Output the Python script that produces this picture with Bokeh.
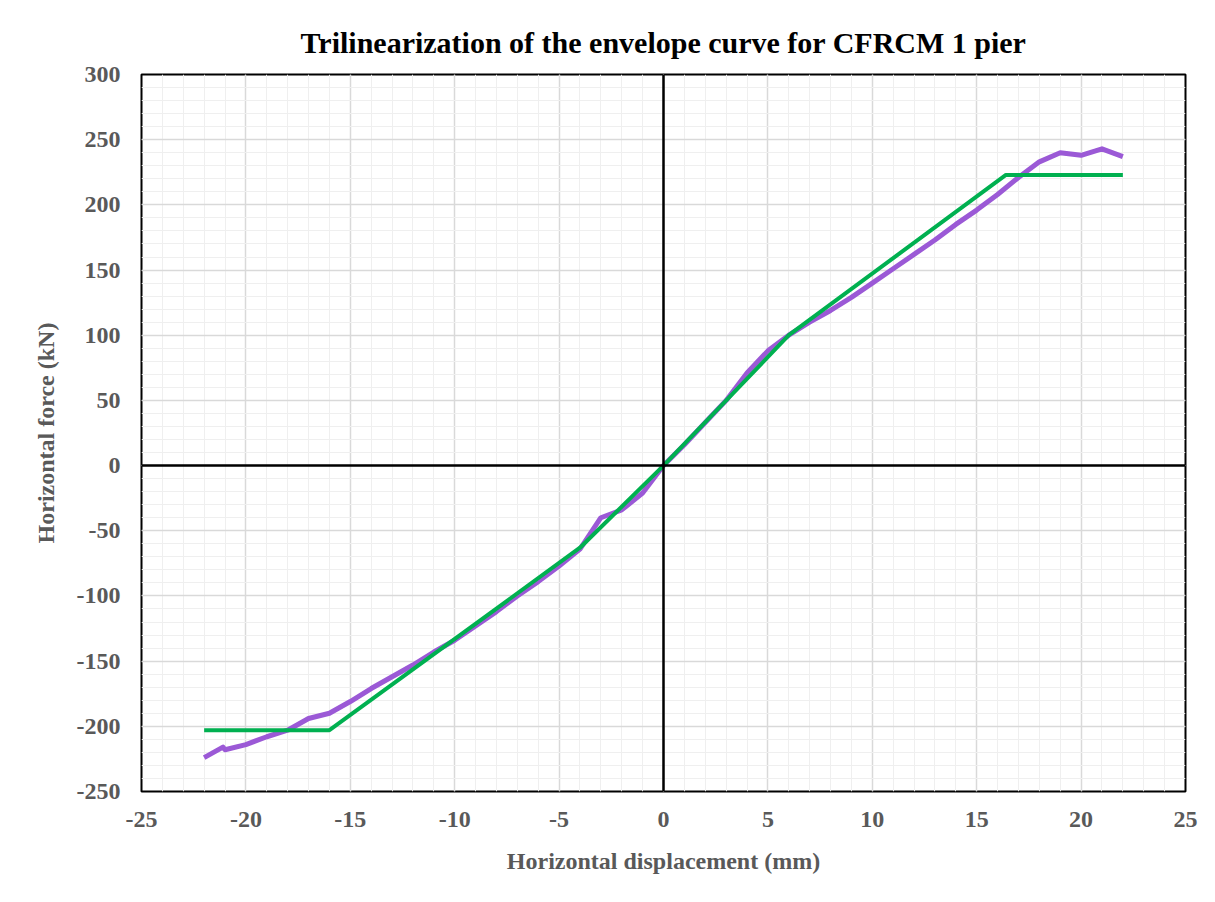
from bokeh.plotting import figure
from bokeh.models import Span, FixedTicker
from bokeh.embed import file_html
from bokeh.resources import INLINE

# Experimental envelope curve (purple)
env_x = [-22, -21.1, -21, -20, -19, -18, -17, -16, -15, -14, -13, -12, -11, -10,
         -9, -8, -7, -6, -5, -4, -3, -2, -1, 0, 1, 2, 3, 4, 5, 6, 7, 8, 9, 10,
         11, 12, 13, 14, 15, 16, 17, 18, 19, 20, 21, 22]
env_y = [-224, -216, -218, -214, -208, -203, -194, -190, -181, -171, -162, -153, -143, -134,
         -123, -112, -100, -89, -77, -64, -40, -34, -21, 0, 16, 33, 50, 71, 88, 100, 110, 119, 129, 140,
         151, 162, 173, 185, 196, 208, 221, 233, 240, 238, 243, 237]

# Trilinear approximation (green)
tri_x = [-22, -16, -4, 0, 6, 16.4, 22]
tri_y = [-203, -203, -63, 0, 100, 223, 223]

# Axis ticks
x_ticks = [-25, -20, -15, -10, -5, 0, 5, 10, 15, 20, 25]
y_ticks = [-250, -200, -150, -100, -50, 0, 50, 100, 150, 200, 250, 300]
x_minor = list(range(-25, 26, 1))
y_minor = list(range(-250, 301, 10))

FONT = "Liberation Serif"
GRAY = "#595959"

p = figure(width=1207, height=894, output_backend="svg", toolbar_location=None,
           x_range=(-25, 25), y_range=(-250, 300),
           min_border_left=141, min_border_right=22, min_border_top=74, min_border_bottom=103,
           title="Trilinearization of the envelope curve for CFRCM 1 pier")

p.title.text_font = FONT
p.title.text_font_size = "30px"
p.title.text_font_style = "bold"
p.title.text_color = "black"
p.title.align = "center"
p.title.offset = 18
p.title.standoff = 32

p.outline_line_color = "black"
p.outline_line_width = 2
p.background_fill_color = "white"
p.border_fill_color = "white"

p.xaxis.ticker = FixedTicker(ticks=x_ticks, minor_ticks=x_minor)
p.yaxis.ticker = FixedTicker(ticks=y_ticks, minor_ticks=y_minor)
p.xaxis.major_label_overrides = {t: str(t) for t in x_ticks}
p.yaxis.major_label_overrides = {t: str(t) for t in y_ticks}

for ax in (p.xaxis[0], p.yaxis[0]):
    ax.axis_line_color = None
    ax.major_tick_line_color = None
    ax.minor_tick_line_color = None
    ax.major_label_text_font = FONT
    ax.major_label_text_font_size = "24px"
    ax.major_label_text_font_style = "bold"
    ax.major_label_text_color = GRAY
    ax.axis_label_text_font = FONT
    ax.axis_label_text_font_size = "24px"
    ax.axis_label_text_font_style = "bold"
    ax.axis_label_text_color = GRAY

p.xaxis.axis_label = "Horizontal displacement (mm)"
p.yaxis.axis_label = "Horizontal force (kN)"
p.xaxis.major_label_standoff = 14
p.yaxis.major_label_standoff = 15
p.xaxis.axis_label_standoff = 18
p.yaxis.axis_label_standoff = 15

for g in (p.xgrid[0], p.ygrid[0]):
    g.grid_line_color = "#d9d9d9"
    g.grid_line_width = 1.5
    g.minor_grid_line_color = "#efefef"
    g.minor_grid_line_width = 1

p.add_layout(Span(location=0, dimension="height", line_color="black", line_width=2.5))
p.add_layout(Span(location=0, dimension="width", line_color="black", line_width=2.5))

p.line(env_x, env_y, line_color="#9b59d6", line_width=5, line_join="round")
p.line(tri_x, tri_y, line_color="#00b050", line_width=4)

open("out.html", "w").write(file_html(p, INLINE))
